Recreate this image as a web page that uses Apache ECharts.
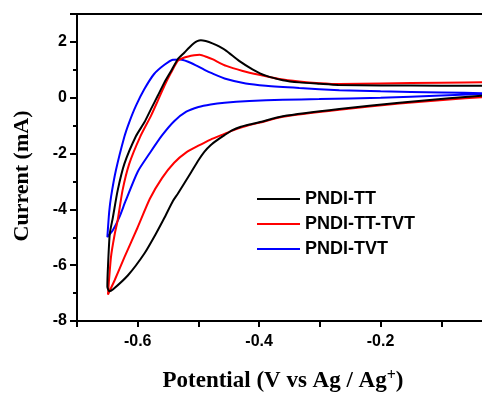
<!DOCTYPE html>
<html>
<head>
<meta charset="utf-8">
<script src="https://cdn.jsdelivr.net/npm/echarts@6/dist/echarts.min.js"></script>
<style>
  html, body { margin: 0; padding: 0; background: #fff; }
  #chart { width: 482px; height: 394px; }
</style>
</head>
<body>
<div id="chart"></div>
<script>
  // values, [potential V, current mA], each loop in scan order
  var seriesNames = ['PNDI-TT', 'PNDI-TT-TVT', 'PNDI-TVT']
  var seriesColors = ['#000000', '#ff0000', '#0000ff']

  var pndiTT = [
    [-0.02, 0.43], [-0.10, 0.43], [-0.20, 0.44], [-0.27, 0.46], [-0.30, 0.50],
    [-0.334, 0.55], [-0.361, 0.63], [-0.389, 0.79], [-0.411, 1.02], [-0.433, 1.32],
    [-0.454, 1.68], [-0.466, 1.84], [-0.477, 1.95], [-0.488, 2.03], [-0.496, 2.06],
    [-0.502, 2.03], [-0.507, 1.96], [-0.515, 1.80], [-0.523, 1.62], [-0.534, 1.38],
    [-0.545, 0.96], [-0.556, 0.55], [-0.567, 0.07], [-0.578, -0.40], [-0.589, -0.88],
    [-0.603, -1.38], [-0.622, -2.37], [-0.633, -3.32], [-0.641, -4.30], [-0.646, -4.87],
    [-0.649, -6.06], [-0.650, -6.77], [-0.647, -6.93], [-0.641, -6.87], [-0.616, -6.36],
    [-0.589, -5.58], [-0.570, -4.87], [-0.556, -4.30], [-0.542, -3.70], [-0.534, -3.44],
    [-0.512, -2.67], [-0.500, -2.24], [-0.490, -1.93], [-0.480, -1.70], [-0.468, -1.50],
    [-0.457, -1.34], [-0.444, -1.16], [-0.430, -1.04], [-0.416, -0.96], [-0.400, -0.88],
    [-0.361, -0.66], [-0.268, -0.40], [-0.169, -0.18], [-0.087, -0.02], [-0.034, 0.07],
    [-0.02, 0.09]
  ]

  var pndiTTTVT = [
    [-0.02, 0.56], [-0.10, 0.54], [-0.20, 0.51], [-0.268, 0.49], [-0.30, 0.52],
    [-0.334, 0.58], [-0.367, 0.67], [-0.400, 0.82], [-0.427, 0.96], [-0.454, 1.14],
    [-0.477, 1.38], [-0.485, 1.45], [-0.498, 1.54], [-0.507, 1.52], [-0.523, 1.44],
    [-0.534, 1.32], [-0.545, 0.90], [-0.556, 0.43], [-0.567, -0.11], [-0.578, -0.64],
    [-0.596, -1.40], [-0.614, -2.37], [-0.625, -3.32], [-0.633, -4.39], [-0.638, -4.90],
    [-0.644, -5.70], [-0.649, -7.05], [-0.638, -6.54], [-0.622, -5.72], [-0.600, -4.64],
    [-0.580, -3.62], [-0.560, -2.88], [-0.540, -2.33], [-0.520, -1.96], [-0.500, -1.72],
    [-0.480, -1.50], [-0.460, -1.32], [-0.444, -1.18], [-0.430, -1.07], [-0.416, -0.98],
    [-0.400, -0.90], [-0.361, -0.68], [-0.268, -0.43], [-0.169, -0.21], [-0.087, -0.06],
    [-0.034, 0.02], [-0.02, 0.04]
  ]

  var pndiTVT = [
    [-0.02, 0.16], [-0.10, 0.19], [-0.20, 0.23], [-0.268, 0.27], [-0.334, 0.35],
    [-0.389, 0.43], [-0.422, 0.51], [-0.454, 0.67], [-0.477, 0.87], [-0.490, 1.00],
    [-0.505, 1.17], [-0.518, 1.30], [-0.530, 1.37], [-0.542, 1.36], [-0.556, 1.18],
    [-0.573, 0.85], [-0.589, 0.31], [-0.603, -0.29], [-0.614, -0.88], [-0.622, -1.40],
    [-0.636, -2.61], [-0.644, -3.56], [-0.647, -4.10], [-0.650, -4.99], [-0.641, -4.75],
    [-0.630, -4.27], [-0.620, -3.70], [-0.600, -2.65], [-0.580, -1.98], [-0.560, -1.35],
    [-0.540, -0.84], [-0.520, -0.50], [-0.500, -0.33], [-0.480, -0.24], [-0.457, -0.18],
    [-0.416, -0.12], [-0.361, -0.07], [-0.301, -0.05], [-0.20, 0.00], [-0.10, 0.08],
    [-0.034, 0.13], [-0.02, 0.14]
  ]

  var xLabels = ['-0.6', '-0.4', '-0.2']
  var yLabels = ['-8', '-6', '-4', '-2', '0', '2']

  var sans = '"Liberation Sans", Arial, sans-serif'
  var serif = '"Liberation Serif", "Times New Roman", serif'

  var chart = echarts.init(document.getElementById('chart'), null, { renderer: 'canvas' })

  function lineSeries(i, data) {
    return {
      name: seriesNames[i],
      type: 'line',
      data: data,
      symbol: 'none',
      smooth: 0.2,
      color: seriesColors[i],
      lineStyle: { color: seriesColors[i], width: 2 },
      z: 3 - i
    }
  }

  var option = {
    animation: false,
    backgroundColor: '#ffffff',
    grid: {
      left: 77,
      top: 14,
      bottom: 73,
      right: -20,
      outerBoundsMode: 'none',
      show: true,
      borderColor: '#000',
      borderWidth: 2,
      backgroundColor: 'transparent'
    },
    legend: {
      orient: 'vertical',
      left: 257,
      top: 190,
      padding: 0,
      icon: 'rect',
      itemWidth: 43,
      itemHeight: 2,
      itemGap: 7,
      textStyle: {
        fontFamily: sans,
        fontWeight: 'bold',
        fontSize: 18,
        color: '#000'
      },
      data: seriesNames
    },
    xAxis: {
      type: 'value',
      min: -0.7,
      max: 0,
      interval: 0.1,
      name: 'Potential (V vs Ag / Ag{sup|+})',
      nameLocation: 'middle',
      nameGap: 47,
      nameTextStyle: {
        fontFamily: serif,
        fontWeight: 'bold',
        fontSize: 23,
        color: '#000',
        padding: [0, 13, 0, 0],
        rich: {
          sup: {
            fontFamily: serif,
            fontWeight: 'bold',
            fontSize: 16,
            color: '#000',
            verticalAlign: 'top',
            padding: [0, 0, 10, 0]
          }
        }
      },
      axisLine: { onZero: false, lineStyle: { color: '#000', width: 2 } },
      axisTick: { inside: false, length: 6, lineStyle: { color: '#000', width: 2 } },
      axisLabel: {
        margin: 13,
        fontFamily: sans,
        fontWeight: 'bold',
        fontSize: 16,
        color: '#000',
        formatter: function (v) {
          var s = (Math.round(v * 10) / 10).toFixed(1)
          return xLabels.indexOf(s) >= 0 ? s : ''
        }
      },
      splitLine: { show: false }
    },
    yAxis: {
      type: 'value',
      min: -8,
      max: 3,
      interval: 2,
      name: 'Current (mA)',
      nameLocation: 'middle',
      nameGap: 44,
      nameTextStyle: {
        fontFamily: serif,
        fontWeight: 'bold',
        fontSize: 22,
        color: '#000',
        padding: [0, 17, 0, 0]
      },
      axisLine: { show: true, onZero: false, lineStyle: { color: '#000', width: 2 } },
      axisTick: { inside: false, length: 7, lineStyle: { color: '#000', width: 2 } },
      minorTick: { show: true, splitNumber: 2, length: 4, lineStyle: { color: '#000', width: 2 } },
      axisLabel: {
        margin: 10,
        fontFamily: sans,
        fontWeight: 'bold',
        fontSize: 16,
        color: '#000',
        formatter: function (v) {
          var s = String(Math.round(v))
          return yLabels.indexOf(s) >= 0 ? s : ''
        }
      },
      splitLine: { show: false }
    },
    series: [
      lineSeries(0, pndiTT),
      lineSeries(1, pndiTTTVT),
      lineSeries(2, pndiTVT)
    ]
  }

  chart.setOption(option)
</script>
</body>
</html>
